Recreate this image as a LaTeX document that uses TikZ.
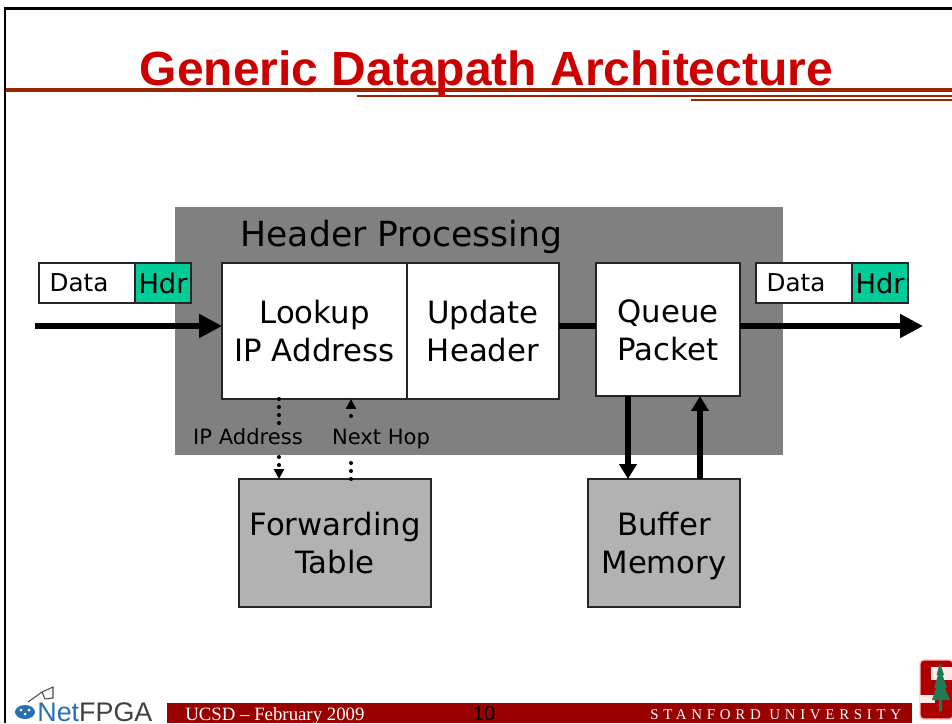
\documentclass[tikz,border=0pt]{standalone}
\usepackage{fontspec}
\setmainfont{DejaVu Sans}
\newfontfamily\titlefont{Liberation Sans}
\newfontfamily\footfont{Liberation Serif}
\usetikzlibrary{positioning,arrows.meta,calc}
\definecolor{rulered}{HTML}{992600}
\definecolor{titlered}{HTML}{CC0000}
\definecolor{barred}{HTML}{990000}
\definecolor{hdrgreen}{HTML}{00CC99}
\definecolor{panelgray}{HTML}{808080}
\definecolor{tablegray}{HTML}{B2B2B2}
\definecolor{netblue}{HTML}{2A6FB0}
\definecolor{treegreen}{HTML}{1E7A50}
\tikzset{
  box/.style={draw=black!85,line width=0.75pt,fill=white,inner sep=0pt,outer sep=0pt,align=center,font=\fontsize{17.5}{21.5}\selectfont},
  databox/.style={box,minimum width=1.92cm,minimum height=0.8cm,font=\fontsize{14}{16}\selectfont},
  hdrbox/.style={box,fill=hdrgreen,minimum width=1.12cm,minimum height=0.8cm,font=\fontsize{15.5}{16}\selectfont},
  membox/.style={box,fill=tablegray,minimum height=2.56cm},
  smalllabel/.style={inner sep=0pt,anchor=base,font=\fontsize{12}{14}\selectfont},
  bigarrow/.style={line width=2.9pt,-{Triangle[length=0.46cm,width=0.46cm]}},
  midarrow/.style={line width=2.9pt,-{Triangle[length=0.3cm,width=0.34cm]}},
  dotline/.style={line width=2.3pt,line cap=round,dash pattern=on 0.01pt off 4.55pt},
  dottip/.style={dotline,-{Triangle[length=0.2cm,width=0.2cm]}},
  footer/.style={inner sep=0pt,anchor=base west,text=white,font=\footfont\fontsize{10.7}{12}\selectfont},
}
\begin{document}
\begin{tikzpicture}[x=0.02cm,y=-0.02cm]
  \useasboundingbox (0,0) rectangle (952,723);
  % slide frame and title
  \draw[line width=1.5pt] (5,723) -- (5,8.5) -- (952,8.5);
  \fill[rulered] (6,88) rectangle (952,92);
  \fill[rulered] (357,95) rectangle (952,97);
  \fill[rulered] (691,99) rectangle (952,101);
  \node (title) at (486.5,73) {\titlefont\bfseries\fontsize{27.3}{30}\selectfont\textcolor{titlered}{Generic Datapath Architecture}};
  % gray panel
  \fill[panelgray] (175,207) rectangle (783,455);
  \node (hdrproc) at (401.5,237) {\fontsize{19.7}{22}\selectfont Header Processing};
  % boxes
  \node[box,minimum width=3.7cm,minimum height=2.72cm] (lookup) at (314.5,331) {Lookup\\IP Address};
  \node[box,minimum width=3.04cm,minimum height=2.72cm,right=0pt of lookup] (update) {Update\\Header};
  \node[box,minimum width=2.88cm,minimum height=2.66cm] (queue) at (668,329.5) {\rule{0pt}{14.2pt}Queue\\Packet};
  \node[databox] (datain) at (87,283) {Data\hspace{0.32cm}};
  \node[hdrbox,right=0pt of datain] (hdrin) {Hdr};
  \node[databox] (dataout) at (804,283) {Data\hspace{0.32cm}};
  \node[hdrbox,right=0pt of dataout] (hdrout) {Hdr};
  \node[membox,minimum width=3.84cm] (fwd) at (335,543) {Forwarding\\Table};
  \node[membox,minimum width=3.04cm] (buffer) at (664,543) {\rule{0pt}{16.7pt}Buffer\\Memory};
  % main path
  \coordinate (inend) at (35,326);
  \coordinate (outend) at (923,326);
  \draw[bigarrow] (inend) -- (inend -| lookup.west);
  \draw[line width=2.9pt] (update.east |- inend) -- (queue.west |- inend);
  \draw[bigarrow] (queue.east |- inend) -- (outend);
  % memory
  \draw[midarrow] (queue.south -| 628,0) -- (buffer.north -| 628,0);
  \draw[midarrow] (buffer.north -| 700,0) -- (queue.south -| 700,0);
  % lookup table
  \node[smalllabel] (ipaddr) at (248,444) {IP Address};
  \node[smalllabel] (nexthop) at (381,444) {Next Hop};
  \draw[dotline] (lookup.south -| 279,0) -- (279,424);
  \draw[dottip] (279,457) -- (fwd.north -| 279,0);
  \draw[dotline] (fwd.north -| 351,0) -- (351,457);
  \draw[dottip] (351,416) -- (lookup.south -| 351,0);
  % footer
  \fill[barred] (167,703) rectangle (912,723);
  \node[footer] (place) at (185,720.5) {UCSD – February 2009};
  \node[inner sep=0pt,anchor=base,font=\titlefont\fontsize{11.5}{14}\selectfont] (pagenum) at (484,720) {10};
  \node[footer,font=\footfont\fontsize{8.5}{10}\selectfont\addfontfeature{LetterSpace=31.5}] (univ) at (650,719) {STANFORD UNIVERSITY};
  % netfpga logo
  \fill[netblue] (25,712) ellipse (10 and 7);
  \fill[white] (21,710) circle (1.5) (29,710) circle (1.5) (25,714) circle (1.5);
  \draw[black!70,line width=0.6pt] (28,702) -- (42,692) -- (53,687) -- (53,698) -- (45,699) -- (42,692);
  \node[inner sep=0pt,anchor=base west,font=\titlefont\fontsize{15.3}{18}\selectfont] (netfpga) at (37,721) {\textcolor{netblue}{Net}\textcolor{black!75}{FPGA}};
  % stanford logo
  \fill[barred!80!red,draw=red!25,line width=0.8pt,rounded corners=2pt] (920,660) rectangle (953,719);
  \fill[red!8] (931,667) rectangle (953,680);
  \fill[red!8] (920,695) rectangle (935,703);
  \fill[treegreen] (940,663) -- (944,675) -- (942.5,675) -- (947,688) -- (945,688) -- (950,700) -- (942,700) -- (942,711) -- (939,711) -- (939,700) -- (932,700) -- (936,688) -- (934,688) -- (938,675) -- (936.5,675) -- cycle;
\end{tikzpicture}
\end{document}
